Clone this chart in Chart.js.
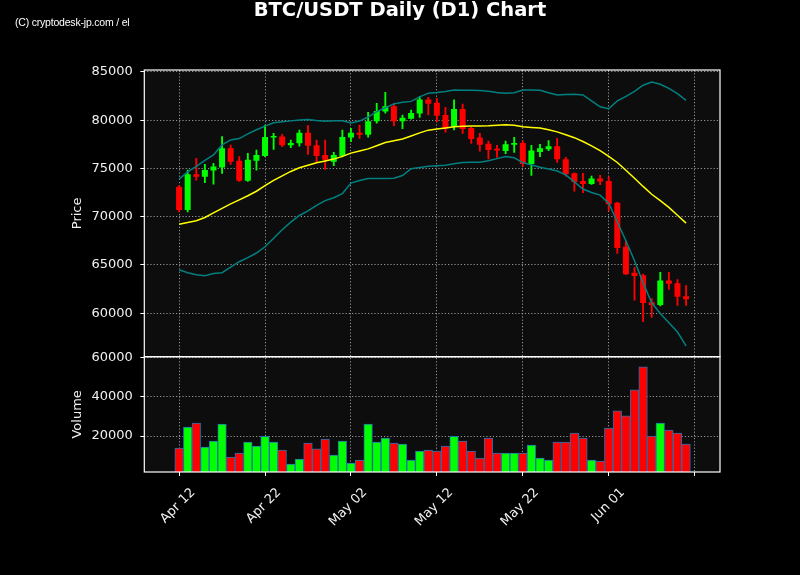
<!DOCTYPE html>
<html><head><meta charset="utf-8">
<script src="https://cdn.jsdelivr.net/npm/chart.js@4.4.1/dist/chart.umd.min.js"></script>
<style>
html,body{margin:0;padding:0;background:#000;}
#wrap{position:relative;width:800px;height:575px;overflow:hidden;}
canvas{position:absolute;left:0;top:0;}
#title{position:absolute;left:0;top:0;width:800px;text-align:center;font:bold 19.5px "DejaVu Sans";line-height:1;color:#fff;}
#mark{position:absolute;left:15px;top:16.5px;font:10.5px "Liberation Sans";letter-spacing:-0.2px;line-height:1;color:#fff;white-space:nowrap;}
</style></head><body>
<div id="wrap">
<canvas id="c" width="800" height="575"></canvas>
<div id="title">BTC/USDT Daily (D1) Chart</div>
<div id="mark">(C) cryptodesk-jp.com / el</div>
</div>
<script>
// ---- data (daily candles from Apr 12, index = day offset) ----
const opens  = [73100,70700,74400,74150,74800,75100,77100,75800,73730,75800,76300,78200,78300,77400,77600,78700,77400,76400,75700,76300,78200,78700,78500,79900,80900,81450,79900,80150,80700,82150,81800,80550,79350,81150,79200,78200,77550,77050,76800,77450,77650,75450,76700,77000,77300,75950,74500,73700,73400,73950,73700,71450,66900,64200,63950,61150,60850,63400,63100,61750];
const highs  = [73200,74830,76050,75430,75530,78290,77430,76220,76570,76910,79500,78640,78530,77950,78980,79430,77950,77950,76680,78980,79160,79500,80820,81750,82890,81750,80540,81060,82440,82370,82270,81340,82100,81680,79250,78640,77840,77400,77840,78230,77870,77400,77500,77900,78120,76150,74550,74490,74210,74280,74140,71500,67470,64740,64050,61520,64250,64250,63500,62870];
const lows   = [70500,70500,73800,73520,73380,74490,75430,73650,73650,74830,76220,76980,77250,77150,77320,76460,75700,74900,75280,76200,77770,78120,78230,79680,80720,79430,79120,80100,80300,80540,79840,78750,78980,78640,77600,76800,75980,76150,76530,76670,75250,74280,76220,76840,75630,74210,72660,72480,73350,73310,70610,66190,64000,61350,59140,59560,60760,62460,60800,60800];
const closes = [70700,74400,74150,74830,75200,77100,75700,73730,75900,76400,78250,78300,77400,77650,78700,77350,76300,75900,76400,78250,78700,78500,79900,80950,81450,79900,80250,80750,82150,81700,80450,79150,81150,79100,78050,77450,76900,76850,77500,77650,75450,76850,77100,77300,75950,74400,73600,73400,73950,73650,71300,66750,64050,63850,61050,60850,63400,63050,61700,61450];
const volumes = [13850,24620,26670,14360,17440,26150,9230,11280,16920,14870,19800,16920,12820,5640,8200,16410,13490,18460,10260,17440,6150,7690,26150,16920,18970,16410,15900,7690,12310,12820,12310,14870,19800,17440,12310,8720,18970,11280,11280,11280,11280,15380,8720,7690,16920,16920,21540,18970,7690,7180,24100,32820,30260,43590,55380,20000,26670,23080,21540,15900];
const sma20  = [69230,69400,69580,69920,70400,70870,71330,71750,72170,72640,73210,73760,74230,74690,75080,75340,75600,75780,75970,76250,76590,76800,77030,77360,77680,77860,78050,78370,78690,78970,79090,79200,79330,79380,79390,79400,79430,79480,79530,79480,79330,79250,79180,79000,78790,78490,78190,77790,77340,76840,76250,75620,74810,73990,73140,72330,71670,70970,70150,69340];
const bbUpper = [73900,74640,75210,75830,76400,77440,77960,78100,78580,79010,79380,79740,79840,79930,80010,80080,79960,79890,79950,79930,79700,79910,80330,80890,81290,81690,81850,81950,82420,82800,82880,82980,83130,83110,83090,83070,82990,82870,82790,82850,83120,83120,83100,82850,82610,82650,82690,82610,81990,81390,81190,82000,82460,82980,83620,83950,83720,83300,82760,82060];
const bbLower = [64500,64200,63990,63880,64120,64200,64770,65340,65760,66240,66890,67780,68650,69440,70130,70600,71170,71670,71970,72400,73490,73750,73970,73970,73970,73990,74270,74970,75110,75230,75290,75340,75480,75620,75640,75650,75790,76020,76230,76100,75610,75350,75120,74940,74740,74340,73610,72870,72510,72240,71390,69450,67510,65440,63150,61090,59970,59010,58060,56620];
const tickDays   = [0, 10, 20, 30, 40, 50, 60];
const tickLabels = ['Apr 12', 'Apr 22', 'May 02', 'May 12', 'May 22', 'Jun 01', ''];
const priceTicks  = [60000, 65000, 70000, 75000, 80000, 85000];
const volumeTicks = [20000, 40000, 60000];

// ---- build ----
const days = opens.map((_, i) => i);
const UP = '#00ff00', DOWN = '#ff0000';
const candleColors = days.map(i => closes[i] >= opens[i] ? UP : DOWN);

const tickFont = {family: 'DejaVu Sans', size: 13};
const txt = '#f0f0f0';

const panelPlugin = {
  id: 'panels',
  beforeDraw(chart) {
    const {ctx, chartArea: a} = chart;
    ctx.save();
    ctx.fillStyle = '#0d0d0d';
    ctx.fillRect(a.left, a.top, a.right - a.left, a.bottom - a.top);
    ctx.restore();
  },
  afterDraw(chart) {
    const {ctx, chartArea: a, scales} = chart;
    ctx.save();
    ctx.strokeStyle = '#ffffff';
    ctx.lineWidth = 1.2;
    for (const id of ['y', 'yv']) {
      const s = scales[id];
      ctx.strokeRect(a.left, s.top, a.right - a.left, s.bottom - s.top);
    }
    ctx.restore();
  }
};

const gridCommon = {color: 'rgba(175,175,175,0.85)', lineWidth: 1, tickColor: '#ffffff', tickLength: 4, tickWidth: 1};

new Chart(document.getElementById('c'), {
  type: 'bar',
  data: {
    datasets: [
      {type: 'line', label: 'SMA', data: days.map(i => ({x: i, y: sma20[i]})), yAxisID: 'y', borderColor: '#ffff00', borderWidth: 1.5, pointRadius: 0, tension: 0, order: 0},
      {type: 'line', label: 'BB upper', data: days.map(i => ({x: i, y: bbUpper[i]})), yAxisID: 'y', borderColor: '#008080', borderWidth: 1.5, pointRadius: 0, tension: 0, order: 0},
      {type: 'line', label: 'BB lower', data: days.map(i => ({x: i, y: bbLower[i]})), yAxisID: 'y', borderColor: '#008080', borderWidth: 1.5, pointRadius: 0, tension: 0, order: 0},
      {label: 'body', data: days.map(i => ({x: i, y: [opens[i], closes[i]]})), yAxisID: 'y', backgroundColor: candleColors, borderWidth: 0, barPercentage: 0.7, categoryPercentage: 1, grouped: false, minBarLength: 1.5, order: 1},
      {label: 'wick', data: days.map(i => ({x: i, y: [lows[i], highs[i]]})), yAxisID: 'y', backgroundColor: candleColors, borderWidth: 0, barThickness: 1.2, grouped: false, order: 2},
      {label: 'Volume', data: days.map(i => ({x: i, y: volumes[i]})), yAxisID: 'yv', backgroundColor: candleColors, borderColor: '#2470ad', borderWidth: 1, borderSkipped: 'bottom', barPercentage: 1, categoryPercentage: 1, grouped: false, order: 3}
    ]
  },
  options: {
    responsive: false,
    animation: false,
    events: [],
    layout: {padding: {left: 60, right: 80, top: 70, bottom: 0}},
    plugins: {legend: {display: false}, tooltip: {enabled: false}, title: {display: false}},
    scales: {
      x: {
        type: 'linear', min: -4.05, max: 62.95, offset: false,
        afterBuildTicks: s => { s.ticks = tickDays.map(v => ({value: v})); },
        afterFit: s => { s.height = 103; },
        ticks: {color: txt, font: tickFont, minRotation: 45, maxRotation: 45, padding: 9, labelOffset: 14, autoSkip: false,
                callback: (v) => tickLabels[tickDays.indexOf(v)] ?? ''},
        grid: Object.assign({offset: false}, gridCommon),
        border: {display: false, dash: [1.2, 2]}
      },
      y: {
        type: 'linear', position: 'left', stack: 'main', stackWeight: 286.7, weight: 2,
        min: 55500, max: 85200,
        afterBuildTicks: s => { s.ticks = priceTicks.map(v => ({value: v})); },
        afterFit: s => { s.width = 84.3; },
        ticks: {color: txt, font: tickFont, padding: 7.5, callback: v => String(v)},
        grid: gridCommon,
        border: {display: false, dash: [1.2, 2]},
        title: {display: true, text: 'Price', color: txt, font: tickFont, padding: {top: 9.7, bottom: 0}}
      },
      yv: {
        type: 'linear', position: 'left', stack: 'main', stackWeight: 115.3, weight: 1,
        min: 1640, max: 60500,
        afterBuildTicks: s => { s.ticks = volumeTicks.map(v => ({value: v})); },
        afterFit: s => { s.width = 84.3; },
        ticks: {color: txt, font: tickFont, padding: 7.5, callback: v => String(v)},
        grid: gridCommon,
        border: {display: false, dash: [1.2, 2]},
        title: {display: true, text: 'Volume', color: txt, font: tickFont, padding: {top: 9.7, bottom: 0}}
      }
    }
  },
  plugins: [panelPlugin]
});
</script>
</body></html>
